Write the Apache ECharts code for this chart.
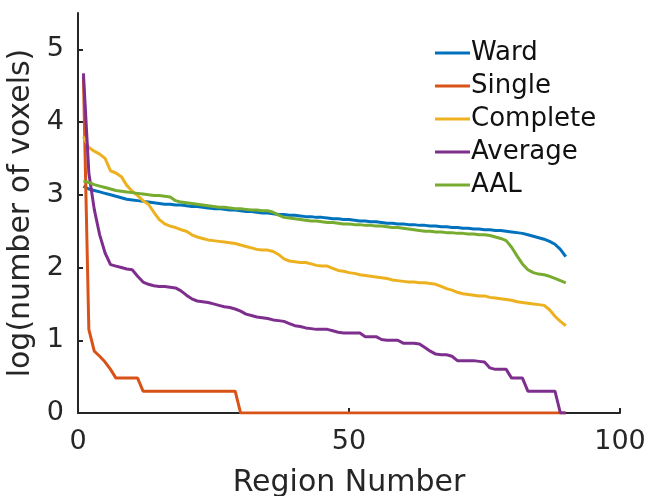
<!DOCTYPE html>
<html>
<head>
<meta charset="utf-8">
<script src="https://cdn.jsdelivr.net/npm/echarts@6/dist/echarts.min.js"></script>
<style>
html,body{margin:0;padding:0;background:#fff;}
#chart{width:648px;height:496px;}
</style>
</head>
<body>
<div id="chart"></div>
<script>
// Region numbers 1..90
const regions = [];
for (let i = 1; i <= 90; i++) regions.push(i);

const seriesNames = ['Ward', 'Single', 'Complete', 'Average', 'AAL'];

const ward = [3.12,3.08,3.06,3.04,3.02,3.00,2.98,2.96,2.94,2.93,
  2.92,2.91,2.90,2.89,2.88,2.87,2.87,2.86,2.86,2.85,
  2.84,2.84,2.83,2.82,2.81,2.81,2.80,2.79,2.79,2.78,
  2.77,2.77,2.76,2.75,2.75,2.74,2.73,2.73,2.72,2.72,
  2.71,2.70,2.70,2.69,2.69,2.68,2.67,2.67,2.66,2.66,
  2.65,2.64,2.64,2.63,2.63,2.62,2.61,2.61,2.60,2.60,
  2.59,2.59,2.58,2.58,2.57,2.57,2.56,2.56,2.55,2.55,
  2.54,2.54,2.53,2.53,2.52,2.52,2.51,2.51,2.50,2.49,
  2.48,2.47,2.45,2.43,2.41,2.39,2.36,2.32,2.25,2.15];

const single = [4.62,1.15,0.85,0.78,0.70,0.60,0.48,0.48,0.48,0.48,
  0.48,0.30,0.30,0.30,0.30,0.30,0.30,0.30,0.30,0.30,
  0.30,0.30,0.30,0.30,0.30,0.30,0.30,0.30,0.30,0,
  0,0,0,0,0,0,0,0,0,0,
  0,0,0,0,0,0,0,0,0,0,
  0,0,0,0,0,0,0,0,0,0,
  0,0,0,0,0,0,0,0,0,0,
  0,0,0,0,0,0,0,0,0,0,
  0,0,0,0,0,0,0,0,0,0];

const complete = [3.80,3.65,3.60,3.56,3.50,3.33,3.30,3.25,3.13,3.05,
  2.99,2.92,2.87,2.76,2.66,2.60,2.57,2.55,2.52,2.50,
  2.45,2.42,2.40,2.38,2.37,2.36,2.35,2.34,2.33,2.31,
  2.29,2.27,2.25,2.24,2.24,2.22,2.18,2.12,2.09,2.08,
  2.07,2.07,2.05,2.03,2.02,2.02,1.99,1.96,1.95,1.93,
  1.92,1.90,1.89,1.88,1.87,1.86,1.85,1.83,1.82,1.81,
  1.80,1.80,1.79,1.79,1.78,1.77,1.74,1.71,1.69,1.66,
  1.64,1.63,1.62,1.61,1.61,1.59,1.58,1.57,1.56,1.55,
  1.53,1.52,1.51,1.50,1.49,1.48,1.42,1.33,1.26,1.20];

const average = [4.67,3.30,2.80,2.45,2.20,2.04,2.02,2.00,1.98,1.97,
  1.88,1.80,1.77,1.75,1.74,1.74,1.73,1.72,1.68,1.62,
  1.57,1.54,1.53,1.52,1.50,1.48,1.46,1.45,1.43,1.40,
  1.36,1.34,1.32,1.31,1.30,1.28,1.27,1.26,1.23,1.20,
  1.19,1.17,1.16,1.15,1.15,1.15,1.13,1.11,1.10,1.10,
  1.10,1.10,1.05,1.05,1.05,1.01,1.00,1.00,1.00,0.96,
  0.96,0.96,0.95,0.90,0.85,0.81,0.80,0.80,0.78,0.72,
  0.72,0.72,0.72,0.71,0.70,0.62,0.60,0.60,0.60,0.48,
  0.48,0.48,0.30,0.30,0.30,0.30,0.30,0.30,0,0];

const aal = [3.19,3.17,3.14,3.12,3.10,3.08,3.06,3.05,3.04,3.03,
  3.02,3.01,3.00,2.99,2.99,2.98,2.97,2.92,2.90,2.89,
  2.88,2.87,2.86,2.85,2.84,2.83,2.83,2.82,2.81,2.81,
  2.80,2.79,2.79,2.78,2.78,2.76,2.72,2.69,2.68,2.67,
  2.66,2.65,2.64,2.64,2.63,2.62,2.62,2.61,2.60,2.60,
  2.59,2.59,2.58,2.58,2.57,2.57,2.56,2.55,2.55,2.54,
  2.53,2.52,2.51,2.50,2.50,2.49,2.49,2.48,2.48,2.47,
  2.47,2.46,2.46,2.45,2.45,2.44,2.42,2.40,2.37,2.28,
  2.16,2.05,1.97,1.93,1.91,1.90,1.88,1.85,1.82,1.79];

const xTicks = [0, 50, 100];
const yTicks = [0, 1, 2, 3, 4, 5];

const colors = ['#0072BD', '#D95319', '#EDB120', '#7E2F8E', '#77AC30'];
const allValues = [ward, single, complete, average, aal];

const FONT = '"DejaVu Sans", sans-serif';
const TXT = '#262626';

const chart = echarts.init(document.getElementById('chart'), null, {renderer: 'canvas'});

const series = seriesNames.map((name, i) => ({
  name: name,
  type: 'line',
  data: regions.map((r, j) => [r, allValues[i][j]]),
  showSymbol: false,
  symbol: 'none',
  lineStyle: {width: 3, color: colors[i]},
  itemStyle: {color: colors[i]},
  z: 2
}));

chart.setOption({
  animation: false,
  backgroundColor: '#ffffff',
  color: colors,
  grid: {left: 78, right: 28, top: 13, bottom: 83, containLabel: false, outerBoundsMode: 'none'},
  legend: {
    orient: 'vertical',
    left: 430,
    top: 35,
    icon: 'rect',
    itemWidth: 35,
    itemHeight: 3,
    itemGap: 7,
    textStyle: {fontFamily: FONT, fontSize: 26, color: '#111', lineHeight: 26, padding: [0, 0, 0, -4]},
    data: seriesNames
  },
  xAxis: {
    type: 'value',
    min: 0,
    max: 100,
    interval: 50,
    name: 'Region Number',
    nameLocation: 'middle',
    nameGap: 55,
    nameTextStyle: {fontFamily: FONT, fontSize: 30, color: TXT},
    axisLine: {show: true, onZero: false, lineStyle: {color: TXT, width: 2}},
    axisTick: {show: true, inside: true, length: 5, lineStyle: {color: TXT, width: 2}, customValues: xTicks},
    axisLabel: {fontFamily: FONT, fontSize: 27, color: TXT, margin: 15, customValues: xTicks},
    splitLine: {show: false}
  },
  yAxis: {
    type: 'value',
    min: 0,
    max: 5.5,
    interval: 1,
    name: 'log(number of voxels)',
    nameLocation: 'middle',
    nameGap: 38,
    nameTextStyle: {fontFamily: FONT, fontSize: 30, color: TXT},
    axisLine: {show: true, onZero: false, lineStyle: {color: TXT, width: 2}},
    axisTick: {show: true, inside: true, length: 5, lineStyle: {color: TXT, width: 2}, customValues: yTicks},
    axisLabel: {fontFamily: FONT, fontSize: 27, color: TXT, margin: 14, customValues: yTicks},
    splitLine: {show: false}
  },
  series: series
});
</script>
</body>
</html>
